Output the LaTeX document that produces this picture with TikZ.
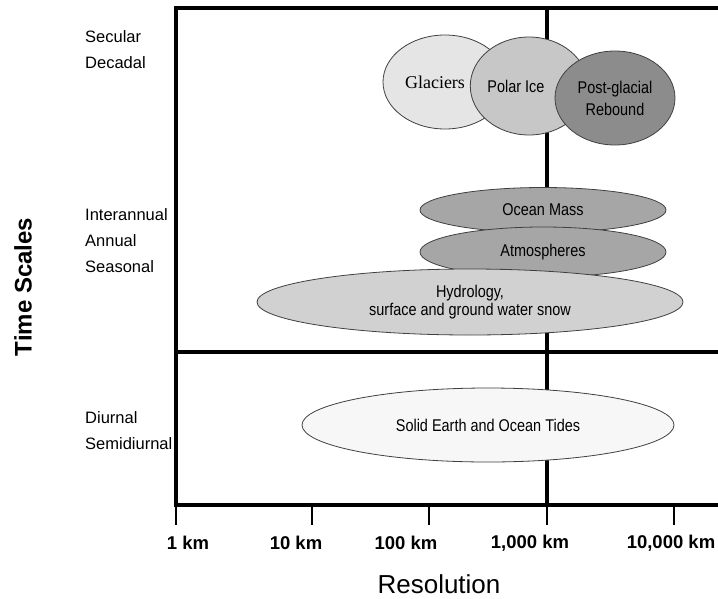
\documentclass[tikz,border=0pt]{standalone}
\usepackage{fontspec}
\setmainfont{Liberation Sans}
\newfontfamily\narrowfont[FakeStretch=0.85]{Liberation Sans}
\newfontfamily\seriffont{Liberation Serif}
\usetikzlibrary{shapes.geometric}

\begin{document}
\begin{tikzpicture}[x=1pt,y=-1pt]
  \useasboundingbox (0,0) rectangle (718,598);

  % frame and grid
  \draw[line width=4pt] (176,507) -- (176,8) -- (730,8);
  \draw[line width=4pt] (176,352) -- (730,352);
  \draw[line width=4pt] (174,505) -- (730,505);
  \draw[line width=3.5pt] (547,8) -- (547,505);

  \begin{scope}[line width=1.8pt]
    \draw (176,505) -- (176,525);
    \draw (312,505) -- (312,525);
    \draw (429,505) -- (429,525);
    \draw (547,505) -- (547,525);
    \draw (674,505) -- (674,525);
  \end{scope}

  \begin{scope}[every node/.style={ellipse, draw=black!75, line width=.8pt, inner sep=0pt,
      align=center, font=\narrowfont\fontsize{17}{22}\selectfont}]
    \node[fill=black!10, minimum width=124, minimum height=94] (glaciers) at (445,82)
      {\seriffont\fontsize{18}{20}\selectfont Glaciers\hspace*{20pt}};
    \node[fill=black!22, minimum width=108, minimum height=98] (polarice) at (529,86)
      {Polar Ice\hspace*{26pt}};
    \node[fill=black!45, minimum width=120, minimum height=94] (rebound) at (615,98)
      {Post-glacial\\Rebound};
    \node[fill=black!35, minimum width=246, minimum height=45] (oceanmass) at (543,210) {Ocean Mass};
    \node[fill=black!35, minimum width=246, minimum height=50] (atmos) at (543,252) {Atmospheres};
    \node[fill=black!18, minimum width=426, minimum height=66, font=\narrowfont\fontsize{17}{18}\selectfont]
      (hydro) at (470,302) {Hydrology,\\surface and ground water snow};
    \node[fill=black!3, minimum width=372, minimum height=74] (tides) at (488,425)
      {Solid Earth and Ocean Tides};
  \end{scope}

  \begin{scope}[every node/.style={anchor=base west, align=left, inner sep=0pt,
      font=\fontsize{16.5}{26}\selectfont}]
    \node (secular)  at (85,68)  {Secular\\Decadal};
    \node (annual)   at (85,272) {Interannual\\Annual\\Seasonal};
    \node (diurnal)  at (85,449) {Diurnal\\Semidiurnal};
  \end{scope}

  \begin{scope}[every node/.style={font=\bfseries\fontsize{18.5}{22}\selectfont}]
    \node (km1)     at (188,543) {1 km};
    \node (km10)    at (296,543) {10 km};
    \node (km100)   at (406,543) {100 km};
    \node (km1000)  at (530,543) {1,000 km};
    \node (km10000) at (671,543) {10,000 km};
  \end{scope}

  \node[font=\fontsize{26}{30}\selectfont] (resolution) at (439,584) {Resolution};
  \node[rotate=90, font=\bfseries\fontsize{24}{28}\selectfont] (timescales) at (23,287) {Time Scales};

\end{tikzpicture}
\end{document}
